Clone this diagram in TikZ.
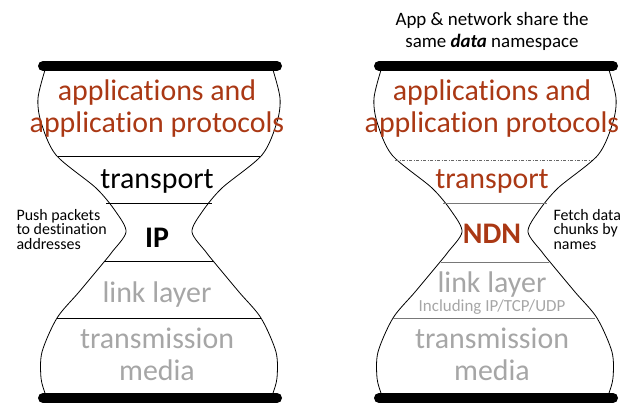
\documentclass[tikz,border=0pt]{standalone}
\usepackage{fontspec}
\setmainfont[Ligatures=NoCommon]{Carlito}
\usetikzlibrary{positioning}
\definecolor{ndnrust}{RGB}{170,56,20}
\definecolor{layergray}{RGB}{166,166,166}
\definecolor{sepgray}{RGB}{120,120,120}
\newcommand\notefont{\fontsize{16}{14.5}\selectfont\lineskiplimit=-20bp\relax}

\begin{document}
\begin{tikzpicture}[x=1bp,y=-1bp,
    bar/.style={line width=10bp,line cap=round},
    rim/.style={line width=0.8bp},
    sep/.style={line width=0.9bp},
    layer/.style={anchor=base,align=center,font=\fontsize{30}{32}\selectfont},
    note/.style={anchor=base west,align=left,font=\notefont}]
    \useasboundingbox (0,0) rectangle (632,408);
    % the two vase outlines, left and right halves
    \foreach \c in {159,495} {
        \foreach \s in {-1,1} {
            \draw[rim] plot[smooth] coordinates {({\c+\s*114},70) ({\c+\s*121},98) ({\c+\s*118},122)
                ({\c+\s*103},155) ({\c+\s*63},188) ({\c+\s*43},212) ({\c+\s*33},232) ({\c+\s*47},252)
                ({\c+\s*55},262) ({\c+\s*80},292) ({\c+\s*102},318) ({\c+\s*117},352) ({\c+\s*118},378)
                ({\c+\s*114},393)};
        }
        % top and bottom bars
        \draw[bar] (\c-116,66) -- (\c+118,66);
        \draw[bar] (\c-116,398) -- (\c+118,398);
    }
    % left: IP
    \draw[sep] (58,156) -- (260,156);
    \draw[sep] (106,203) -- (212,203);
    \draw[sep] (104,261) -- (214,261);
    \draw[sep] (57,318) -- (261,318);
    \node[layer,text=ndnrust] (lApp) at (157,132) {applications and\\application protocols};
    \node[layer] (lTrans) at (157,188) {transport};
    \node[layer,font=\fontsize{30}{32}\selectfont\bfseries] (lIP) at (157,247) {IP};
    \node[layer,text=layergray] (lLink) at (157,302) {link layer};
    \node[layer,text=layergray] (lMedia) at (157,380) {transmission\\media};
    \node[note] (lNote) at (13,249) {Push packets\\to destination\\addresses};
    % right: NDN
    \draw[line width=1bp,black!60,dash pattern=on 3bp off 1.5bp on 1bp off 1.5bp] (395,160) -- (592,160);
    \draw[sep,sepgray] (443,203) -- (547,203);
    \draw[sep,sepgray] (441,262) -- (549,262);
    \draw[sep,sepgray] (393,318) -- (595,318);
    \node[anchor=base,align=center,font=\fontsize{19}{22}\selectfont] (rTop) at (492,47)
        {App \& network share the\\same \textbf{\textit{data}} namespace};
    \node[layer,text=ndnrust] (rApp) at (492,132) {applications and\\application protocols};
    \node[layer,text=ndnrust] (rTrans) at (492,188) {transport};
    \node[layer,text=ndnrust,font=\fontsize{30}{32}\selectfont\bfseries] (rNDN) at (492,243) {NDN};
    \node[layer,text=layergray] (rLink) at (492,292) {link layer};
    \node[layer,text=layergray,font=\fontsize{17}{20}\selectfont] (rIncl) at (492,311) {Including IP/TCP/UDP};
    \node[layer,text=layergray] (rMedia) at (492,380) {transmission\\media};
    \node[note] (rNote) at (550,249) {Fetch data\\chunks by\\names};
\end{tikzpicture}
\end{document}
